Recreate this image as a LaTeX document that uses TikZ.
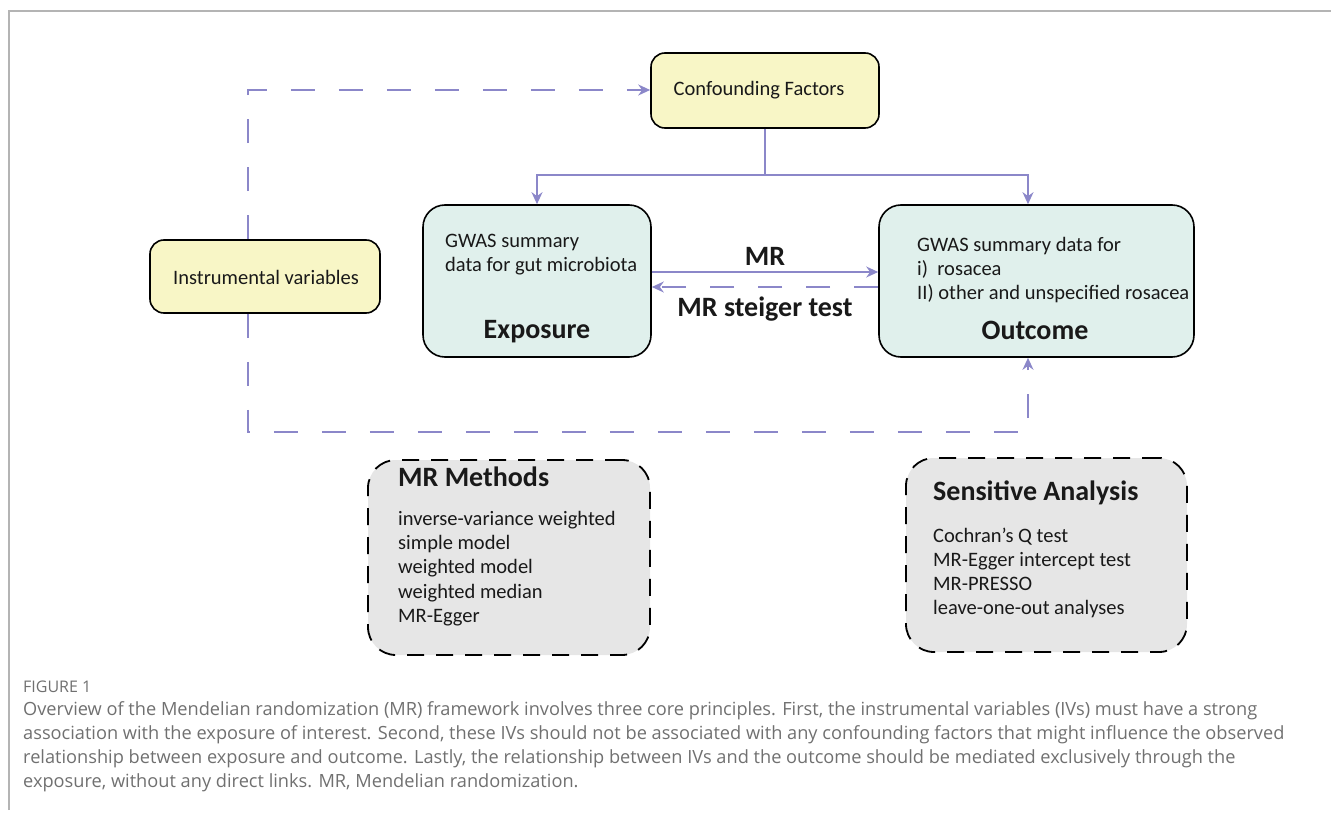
\documentclass[tikz,border=0pt]{standalone}
\usepackage{fontspec}
\setmainfont{Carlito}
\newfontfamily\capfont{Open Sans}
\usetikzlibrary{arrows.meta}
\definecolor{purp}{HTML}{8B87C9}
\definecolor{yel}{HTML}{F8F6C6}
\definecolor{cyanbox}{HTML}{E0F0EC}
\definecolor{graybox}{HTML}{E6E6E6}
\definecolor{capgray}{HTML}{707070}
\definecolor{framegray}{HTML}{B4B4B4}
\tikzset{
  ybox/.style={draw=black, line width=1.6pt, fill=yel, rounded corners=14pt, inner sep=0pt},
  cbox/.style={draw=black, line width=1.6pt, fill=cyanbox, rounded corners=22pt, inner sep=0pt},
  dbox/.style={draw=black, line width=1.8pt, fill=graybox, rounded corners=28pt, inner sep=0pt, dash pattern=on 17pt off 12pt},
  conn/.style={draw=purp, line width=1.8pt},
  dconn/.style={draw=purp, line width=1.8pt, dash pattern=on 24pt off 24pt},
  tip/.style={-{Stealth[length=12pt,width=11pt]}},
  txt/.style={inner sep=0pt, font=\fontsize{20.5}{24.2}\selectfont, align=left, text=black!90},
  btxt/.style={inner sep=0pt, font=\fontsize{28}{32}\selectfont\bfseries, text=black!90},
  mtxt/.style={inner sep=0pt, font=\fontsize{28}{32}\selectfont\bfseries, text=black!90},
  captxt/.style={inner sep=0pt, anchor=west, font=\capfont\fontsize{18.2}{24}\selectfont, text=capgray},
}
\begin{document}
\begin{tikzpicture}[x=1pt,y=-1pt]
\useasboundingbox (0,0) rectangle (1331,818);
% frame
\draw[framegray, line width=1.5pt] (9,810) -- (9,11) -- (1331,11);

% boxes
\node[ybox, minimum width=228pt, minimum height=75pt] (conf) at (765,90.5) {};
\node[txt] (conft) at (759,90) {Confounding Factors};
\node[ybox, minimum width=230pt, minimum height=73pt] (iv) at (265,276.5) {};
\node[txt] (ivt) at (266,277) {Instrumental variables};
\node[cbox, minimum width=228pt, minimum height=152pt] (expo) at (537,281) {};
\node[txt, anchor=west] (expot) at (445,255) {GWAS summary\\data for gut microbiota};
\node[btxt] (expol) at (537,332) {Exposure};
\node[cbox, minimum width=315pt, minimum height=152pt] (outc) at (1036.5,281) {};
\node[txt, anchor=west] (outct) at (917,270) {GWAS summary data for\\i)\ \ rosacea\\II) other and unspecified rosacea};
\node[btxt] (outcl) at (1035,330) {Outcome};

\node[dbox, minimum width=282pt, minimum height=195pt] (mrm) at (509,557.5) {};
\node[btxt, anchor=west] (mrmt) at (398,477) {MR Methods};
\node[txt, anchor=west] (mrmi) at (398,568.5) {inverse-variance weighted\\simple model\\weighted model\\weighted median\\MR-Egger};
\node[dbox, minimum width=281pt, minimum height=194pt] (sens) at (1046.5,555) {};
\node[btxt, anchor=west] (senst) at (933,493) {Sensitive Analysis};
\node[txt, anchor=west] (sensi) at (933,573) {Cochran’s Q test\\MR-Egger intercept test\\MR-PRESSO\\leave-one-out analyses};

% connectors
\coordinate (split) at (conf.south |- 0,175);
\draw[conn] (conf.south) -- (split);
\draw[conn, tip] (split) -| (expo.north);
\draw[conn, tip] (split) -| ([xshift=-8.5pt]outc.north);
\draw[conn, tip] (expo.east |- 0,272) -- (outc.west |- 0,272) node[midway, above=6pt, mtxt] (mrl) {MR};
\draw[dconn, tip] (outc.west |- 0,287) -- (expo.east |- 0,287) node[midway, below=9pt, mtxt] (steig) {MR steiger test};
\coordinate (c1) at (248,90);
\draw[dconn, tip] ([xshift=-17pt]iv.north) -- (c1) -- (conf.west |- c1);
\coordinate (c2) at (248,432);
\coordinate (c3) at (1028,432);
\draw[dconn, tip] ([xshift=-17pt]iv.south) -- (c2) -- (c3) -- ([xshift=-8.5pt]outc.south);

% caption
\node[captxt, font=\capfont\fontsize{16}{18}\selectfont] (fig) at (23,687) {FIGURE 1};
\node[captxt] (cap1) at (23,711) {Overview of the Mendelian randomization (MR) framework involves three core principles. First, the instrumental variables (IVs) must have a strong};
\node[captxt] (cap2) at (23,735) {association with the exposure of interest. Second, these IVs should not be associated with any confounding factors that might influence the observed};
\node[captxt] (cap3) at (23,759) {relationship between exposure and outcome. Lastly, the relationship between IVs and the outcome should be mediated exclusively through the};
\node[captxt] (cap4) at (23,783) {exposure, without any direct links. MR, Mendelian randomization.};
\end{tikzpicture}
\end{document}
